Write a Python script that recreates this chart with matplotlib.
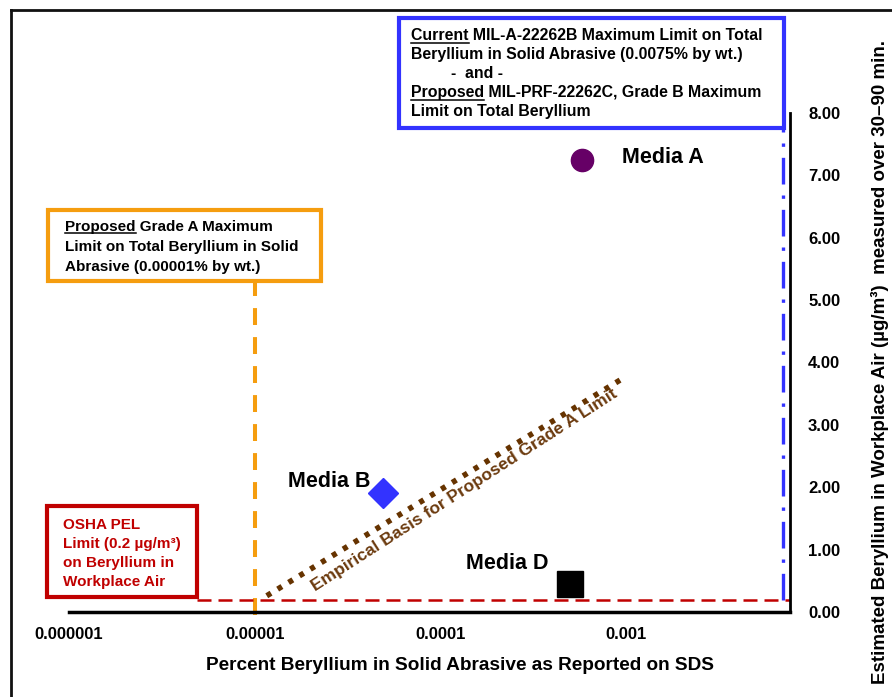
import matplotlib

matplotlib.use("Agg")
import matplotlib.pyplot as plt
from matplotlib.lines import Line2D
from matplotlib.patches import Rectangle

# data
media_names = ["Media A", "Media B", "Media D"]
media_pct = [5.8e-4, 4.9e-5, 5.0e-4]
media_air = [7.25, 1.90, 0.45]
media_markers = ["o", "D", "s"]
media_colors = ["#660066", "#3333ff", "#000000"]
media_sizes = [16, 15.5, 19]

grade_a_limit = 1e-5        # proposed grade A limit (% by wt.)
grade_b_limit = 0.0070      # current / proposed grade B limit line
osha_pel = 0.2              # ug/m3
trend_x = [1.16e-5, 1.0e-3]
trend_y = [0.26, 3.78]

x_ticks = [1e-6, 1e-5, 1e-4, 1e-3]
x_tick_labels = ["0.000001", "0.00001", "0.0001", "0.001"]
y_ticks = [0, 1, 2, 3, 4, 5, 6, 7, 8]

plt.rcParams["font.family"] = ["Liberation Sans", "DejaVu Sans"]
plt.rcParams["font.weight"] = "bold"

W, H = 892, 697
fig = plt.figure(figsize=(W / 100, H / 100), dpi=100)


def fx(x):
    return x / W


def fy(y):
    return 1 - y / H


ax = fig.add_axes([fx(69), fy(612), fx(790) - fx(69), fy(113) - fy(612)])
ax.set_xscale("log")
ax.set_xlim(1e-6, 0.0076)
ax.set_ylim(0, 8)
for s in ["top", "left"]:
    ax.spines[s].set_visible(False)
ax.spines["bottom"].set_linewidth(2.5)
ax.spines["right"].set_linewidth(2.0)
ax.yaxis.tick_right()
ax.yaxis.set_label_position("right")
ax.set_xticks(x_ticks)
ax.set_xticklabels(x_tick_labels)
ax.minorticks_off()
ax.set_yticks(y_ticks)
ax.set_yticklabels([f"{v:.2f}" for v in y_ticks])
ax.tick_params(axis="both", length=0, labelsize=12)
ax.tick_params(axis="x", pad=11)
ax.tick_params(axis="y", pad=13)
ax.set_xlabel("Percent Beryllium in Solid Abrasive as Reported on SDS",
              fontsize=13.7, fontweight="bold")
ax.xaxis.set_label_coords(0.542, -0.09)
ax.set_ylabel("Estimated Beryllium in Workplace Air (µg/m³)  measured over 30–90 min.",
              fontsize=13.5, fontweight="bold", labelpad=22)

# limit lines
ax.plot([grade_a_limit, grade_a_limit], [-0.05, 5.3], color="#f59d0f", lw=2.9,
        ls=(0, (4.2, 3)), clip_on=False)
ax.plot([grade_b_limit, grade_b_limit], [osha_pel, 7.8], color="#3333ff", lw=2.4,
        ls=(0, (8, 3.3, 1, 3.3)), clip_on=False)
ax.plot([4.9e-6, 0.0076], [osha_pel, osha_pel], color="#c00000", lw=1.8,
        ls=(0, (5.6, 2.8)), clip_on=False)
ax.plot(trend_x, trend_y, color="#663300", lw=4, ls=(0, (0.9, 1.4)))

for name, x, y, m, c, ms in zip(media_names, media_pct, media_air,
                                media_markers, media_colors, media_sizes):
    ax.plot([x], [y], marker=m, color=c, ms=ms, ls="none", zorder=5)

ax.text(6.6e-4 * 1.43, 7.28, "Media A", fontsize=15.5, ha="left", va="center")
ax.text(4.9e-5 / 1.165, 2.1, "Media B", fontsize=15.5, ha="right", va="center")
ax.text(5.0e-4 / 1.31, 0.78, "Media D", fontsize=15.5, ha="right", va="center")
ax.text(1.35e-4, 1.95, "Empirical Basis for Proposed Grade A Limit",
        fontsize=12.5, color="#6b3a0e", rotation=32.8, ha="center", va="center",
        rotation_mode="anchor")

# figure border
fig.add_artist(Line2D([fx(11), fx(11)], [fy(10), 0], color="#111111", lw=2))
fig.add_artist(Line2D([fx(11), 1], [fy(10), fy(10)], color="#111111", lw=2))


def box(x0, y0, x1, y1, color):
    fig.add_artist(Rectangle((fx(x0), fy(y1)), fx(x1) - fx(x0), fy(y0) - fy(y1),
                             transform=fig.transFigure, fill=True, facecolor="white",
                             edgecolor=color, lw=3, zorder=3))


def lines(x, y0, step, texts, color="black", size=11, underline=()):
    renderer = fig.canvas.get_renderer()
    for i, t in enumerate(texts):
        xx = x
        if t.startswith("    "):
            xx = x + 40
            t = t.strip()
        yb = y0 + i * step  # baseline, px from top
        fig.text(fx(xx), fy(yb), t, fontsize=size, color=color,
                 ha="left", va="baseline", zorder=4)
        if i in underline:
            word = t.split(" ")[0]
            probe = fig.text(fx(xx), fy(yb), word, fontsize=size,
                             ha="left", va="baseline")
            bb = probe.get_window_extent(renderer)
            probe.remove()
            yy = fy(yb + 2.5)
            fig.add_artist(Line2D([bb.x0 / W, bb.x1 / W], [yy, yy],
                                  color=color, lw=1.1, zorder=4))


box(399, 18, 784, 128, "#3333ff")
lines(411, 40, 19, ["Current MIL-A-22262B Maximum Limit on Total",
                    "Beryllium in Solid Abrasive (0.0075% by wt.)",
                    "    -  and -",
                    "Proposed MIL-PRF-22262C, Grade B Maximum",
                    "Limit on Total Beryllium"], size=11.4, underline=(0, 3))

box(48, 210, 321, 281, "#f59d0f")
lines(65, 231, 20, ["Proposed Grade A Maximum",
                    "Limit on Total Beryllium in Solid",
                    "Abrasive (0.00001% by wt.)"], underline=(0,))

box(47, 506, 197, 597, "#c00000")
lines(63, 529, 19, ["OSHA PEL",
                    "Limit (0.2 µg/m³)",
                    "on Beryllium in",
                    "Workplace Air"], color="#c00000", size=11)

fig.savefig("out.png", dpi=100)
